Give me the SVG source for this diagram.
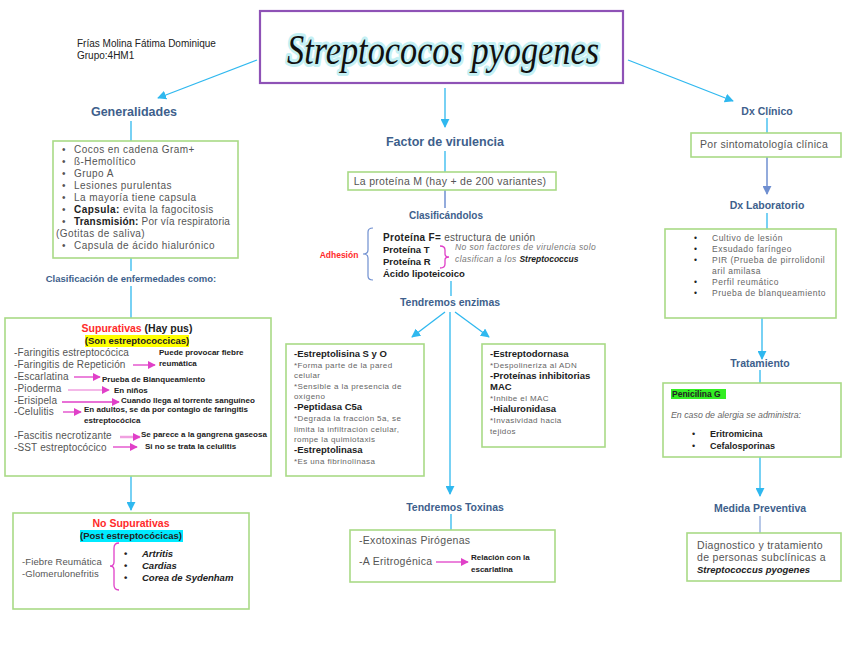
<svg xmlns="http://www.w3.org/2000/svg" width="848" height="655" viewBox="0 0 848 655">
<defs>
<marker id="ac" viewBox="0 0 10 10" refX="9" refY="5" markerWidth="9" markerHeight="9" markerUnits="userSpaceOnUse" orient="auto"><path d="M0,0 L10,5 L0,10 z" fill="#2fb8ef"/></marker>
<marker id="ab" viewBox="0 0 10 10" refX="9" refY="5" markerWidth="9" markerHeight="9" markerUnits="userSpaceOnUse" orient="auto"><path d="M0,0 L10,5 L0,10 z" fill="#6f8fd0"/></marker>
<marker id="am" viewBox="0 0 10 10" refX="9" refY="5" markerWidth="8" markerHeight="8" markerUnits="userSpaceOnUse" orient="auto"><path d="M0,0 L10,5 L0,10 z" fill="#e040c8"/></marker>
</defs>
<style>
text{font-family:"Liberation Sans","Noto Sans",Arial,sans-serif;}
.box{fill:#fff;stroke:#a9da86;stroke-width:1.6;}
.lbl{font-weight:bold;fill:#3e5f8c;text-anchor:middle;}
.body{font-size:10px;fill:#555;letter-spacing:0.3px;}
.sm{font-size:8px;fill:#666;letter-spacing:0.4px;}
.bsm{font-size:9.5px;font-weight:bold;fill:#222;}
.note{font-size:8px;font-weight:bold;fill:#222;}
.c{stroke:#2fb8ef;stroke-width:1.3;fill:none;}
.cb{stroke:#6f8fd0;stroke-width:1.5;fill:none;}
.m{stroke:#e040c8;stroke-width:1.3;fill:none;}
.blt{font-size:9px;fill:#222;}
</style>
<rect width="848" height="655" fill="#fff"/>

<g id="connectors">
<line class="c" x1="257" y1="60" x2="158" y2="98" marker-end="url(#ac)"/>
<line class="c" x1="445" y1="88" x2="445" y2="127" marker-end="url(#ac)"/>
<line class="c" x1="628" y1="60" x2="733" y2="101" marker-end="url(#ac)"/>
<line class="c" x1="131" y1="121" x2="131" y2="141"/>
<line class="c" x1="131" y1="258" x2="131" y2="271"/>
<line class="c" x1="131" y1="286" x2="131" y2="318"/>
<line class="c" x1="131" y1="476" x2="131" y2="510" marker-end="url(#ac)"/>
<line class="c" x1="445" y1="151" x2="445" y2="172"/>
<line class="cb" x1="445" y1="190" x2="445" y2="208"/>
<line class="c" x1="451" y1="281" x2="451" y2="296"/>
<line class="c" x1="445" y1="312" x2="412" y2="337" marker-end="url(#ac)"/>
<line class="c" x1="455" y1="312" x2="489" y2="337" marker-end="url(#ac)"/>
<line class="c" x1="450" y1="312" x2="450" y2="494" marker-end="url(#ac)"/>
<line class="c" x1="451" y1="514" x2="451" y2="530"/>
<line class="c" x1="767" y1="118" x2="767" y2="133"/>
<line class="cb" x1="767" y1="157" x2="767" y2="194" marker-end="url(#ab)"/>
<line class="c" x1="767" y1="213" x2="767" y2="229"/>
<line class="c" x1="762" y1="318" x2="762" y2="359" marker-end="url(#ac)"/>
<line class="c" x1="760" y1="370" x2="760" y2="383"/>
<line class="c" x1="760" y1="457" x2="760" y2="496" marker-end="url(#ac)"/>
<line class="cb" x1="760" y1="516" x2="760" y2="533" style="stroke-width:1"/>
</g>

<g id="author">
<text x="77" y="47" style="font-size:10px;fill:#222;">Frías Molina Fátima Dominique</text>
<text x="77" y="59" style="font-size:10px;fill:#222;">Grupo:4HM1</text>
</g>

<g id="title">
<rect x="260" y="11" width="363" height="72" fill="#fff" stroke="#8e52b6" stroke-width="2.2"/>
<text x="443" y="64" text-anchor="middle" textLength="312" lengthAdjust="spacingAndGlyphs" style="font-family:'Liberation Serif','DejaVu Serif',serif;font-style:italic;font-size:42px;fill:#111;stroke:#c4f0f4;stroke-width:6;stroke-linejoin:round;paint-order:stroke;">Streptococos pyogenes</text>
</g>

<g id="generalidades">
<text class="lbl" x="134" y="116" style="font-size:12.5px;">Generalidades</text>
<rect class="box" x="53" y="141" width="185" height="117"/>
<g class="body" style="font-size:10px;letter-spacing:0.45px;">
<text x="62" y="153">•</text><text x="74" y="153">Cocos en cadena Gram+</text>
<text x="62" y="165">•</text><text x="74" y="165">ß-Hemolítico</text>
<text x="62" y="177">•</text><text x="74" y="177">Grupo A</text>
<text x="62" y="189">•</text><text x="74" y="189">Lesiones purulentas</text>
<text x="62" y="201">•</text><text x="74" y="201">La mayoría tiene capsula</text>
<text x="62" y="213">•</text><text x="74" y="213"><tspan font-weight="bold" fill="#222">Capsula:</tspan> evita la fagocitosis</text>
<text x="62" y="225">•</text><text x="74" y="225" style="letter-spacing:0.2px;"><tspan font-weight="bold" fill="#222">Transmisión:</tspan> Por vía respiratoria</text>
<text x="56" y="237">(Gotitas de saliva)</text>
<text x="62" y="249">•</text><text x="74" y="249">Capsula de ácido hialurónico</text>
</g>
<text class="lbl" x="131" y="282" style="font-size:9.5px;">Clasificación de enfermedades como:</text>
</g>

<g id="supurativas">
<rect class="box" x="5" y="318" width="266" height="158"/>
<text x="137" y="332" text-anchor="middle" style="font-size:10.5px;font-weight:bold;fill:#222;"><tspan fill="#ff2a2a">Supurativas</tspan> (Hay pus)</text>
<rect x="85" y="335" width="104" height="12" fill="#ffff00"/>
<text x="137" y="344" text-anchor="middle" style="font-size:9.5px;font-weight:bold;fill:#222;">(Son estreptococcicas)</text>
<g class="body" style="font-size:10px;letter-spacing:0.15px;">
<text x="14" y="356">-Faringitis estreptocócica</text>
<text x="14" y="368">-Faringitis de Repetición</text>
<text x="14" y="380">-Escarlatina</text>
<text x="14" y="392">-Pioderma</text>
<text x="14" y="404">-Erisipela</text>
<text x="14" y="415">-Celulitis</text>
<text x="14" y="439">-Fascitis necrotizante</text>
<text x="14" y="451">-SST estreptocócico</text>
</g>
<line class="m" x1="133" y1="365" x2="155" y2="365" marker-end="url(#am)"/>
<line class="m" x1="74" y1="377" x2="100" y2="377" marker-end="url(#am)"/>
<line class="m" x1="68" y1="390" x2="109" y2="390" marker-end="url(#am)" style="stroke:#f0a0e0;"/>
<line class="m" x1="62" y1="402" x2="119" y2="402" marker-end="url(#am)"/>
<line class="m" x1="63" y1="412" x2="81" y2="412" marker-end="url(#am)"/>
<line class="m" x1="120" y1="437" x2="140" y2="437" marker-end="url(#am)" style="stroke:#f0a0e0;stroke-width:2.5;"/>
<line class="m" x1="113" y1="447" x2="137" y2="447" marker-end="url(#am)"/>
<g class="note">
<text x="159" y="355">Puede provocar fiebre</text>
<text x="159" y="366">reumática</text>
<text x="102" y="382">Prueba de Blanqueamiento</text>
<text x="114" y="393">En niños</text>
<text x="121" y="403">Cuando llega al torrente sanguíneo</text>
<text x="84" y="412">En adultos, se da por contagio de faringitis</text>
<text x="84" y="423">estreptocócica</text>
<text x="141" y="437">Se parece a la gangrena gaseosa</text>
<text x="145" y="449">Si no se trata la celulitis</text>
</g>
</g>

<g id="no-supurativas">
<rect class="box" x="13" y="513" width="236" height="96"/>
<text x="131" y="527" text-anchor="middle" style="font-size:10.5px;font-weight:bold;fill:#ff2a2a;">No Supurativas</text>
<rect x="80" y="530" width="103" height="12" fill="#00eaff"/>
<text x="131" y="539" text-anchor="middle" style="font-size:9.5px;font-weight:bold;fill:#222;">(Post estreptocócicas)</text>
<text class="body" x="22" y="565" style="font-size:9.5px;letter-spacing:0.1px;">-Fiebre Reumática</text>
<text class="body" x="22" y="577" style="font-size:9.5px;letter-spacing:0.1px;">-Glomerulonefritis</text>
<path d="M119,543 Q114,543 114,548 L114,562 Q114,566 110,566 Q114,566 114,570 L114,585 Q114,590 119,590" class="m"/>
<g style="font-size:9.5px;font-weight:bold;font-style:italic;fill:#222;">
<text x="124" y="557" style="font-style:normal;">•</text><text x="142" y="557">Artritis</text>
<text x="124" y="569" style="font-style:normal;">•</text><text x="142" y="569">Cardias</text>
<text x="124" y="581" style="font-style:normal;">•</text><text x="142" y="581">Corea de Sydenham</text>
</g>
</g>

<g id="factor-virulencia">
<text class="lbl" x="445" y="146" style="font-size:12.5px;">Factor de virulencia</text>
<rect class="box" x="348" y="172" width="208" height="18"/>
<text class="body" x="450" y="185" text-anchor="middle" style="font-size:10.5px;">La proteína M (hay + de 200 variantes)</text>
<text class="lbl" x="446" y="219" style="font-size:10px;">Clasificándolos</text>
</g>

<g id="clasificacion">
<path d="M373,228 Q368,228 368,232 L368,250 Q368,254 363,254 Q368,254 368,258 L368,276 Q368,280 373,280" fill="none" stroke="#6f8fd0" stroke-width="1.2"/>
<text x="339" y="258" text-anchor="middle" style="font-size:8.5px;fill:#ff2a2a;font-weight:bold;">Adhesión</text>
<text x="383" y="241" style="font-size:10px;fill:#555;letter-spacing:0.3px;"><tspan font-weight="bold" fill="#222">Proteína F=</tspan> estructura de unión</text>
<text x="383" y="253" style="font-size:9.5px;font-weight:bold;fill:#222;">Proteína T</text>
<text x="383" y="265" style="font-size:9.5px;font-weight:bold;fill:#222;">Proteína R</text>
<text x="383" y="277" style="font-size:9.5px;font-weight:bold;fill:#222;">Ácido lipoteicoico</text>
<path d="M440,246 Q445,246 445,250 L445,254 Q445,257 449,257 Q445,257 445,260 L445,264 Q445,268 440,268" class="m"/>
<text x="455" y="250" style="font-size:8.5px;font-style:italic;fill:#777;letter-spacing:0.4px;">No son factores de virulencia solo</text>
<text x="455" y="262" style="font-size:8.5px;font-style:italic;fill:#777;letter-spacing:0.4px;">clasifican a los <tspan font-weight="bold" fill="#222" style="letter-spacing:0;">Streptococcus</tspan></text>
<text class="lbl" x="450" y="306" style="font-size:10.5px;">Tendremos enzimas</text>
</g>

<g id="enzimas-1">
<rect class="box" x="286" y="344" width="138" height="132"/>
<text class="bsm" x="294" y="357">-Estreptolisina S y O</text>
<text class="sm" x="294" y="368">*Forma parte de la pared</text>
<text class="sm" x="294" y="378">celular</text>
<text class="sm" x="294" y="389">*Sensible a la presencia de</text>
<text class="sm" x="294" y="399">oxígeno</text>
<text class="bsm" x="294" y="410">-Peptidasa C5a</text>
<text class="sm" x="294" y="421">*Degrada la fracción 5a, se</text>
<text class="sm" x="294" y="432">limita la infiltración celular,</text>
<text class="sm" x="294" y="442">rompe la quimiotaxis</text>
<text class="bsm" x="294" y="453">-Estreptolinasa</text>
<text class="sm" x="294" y="464">*Es una fibrinolinasa</text>
</g>

<g id="enzimas-2">
<rect class="box" x="482" y="344" width="123" height="103"/>
<text class="bsm" x="490" y="357">-Estreptodornasa</text>
<text class="sm" x="490" y="368">*Despolineriza al ADN</text>
<text class="bsm" x="490" y="379">-Proteínas inhibitorias</text>
<text class="bsm" x="490" y="390">MAC</text>
<text class="sm" x="490" y="401">*Inhibe el MAC</text>
<text class="bsm" x="490" y="412">-Hialuronidasa</text>
<text class="sm" x="490" y="423">*Invasividad hacia</text>
<text class="sm" x="490" y="434">tejidos</text>
</g>

<g id="toxinas">
<text class="lbl" x="455" y="511" style="font-size:10.5px;">Tendremos Toxinas</text>
<rect class="box" x="350" y="530" width="205" height="52"/>
<text class="body" x="359" y="544" style="font-size:10.5px;">-Exotoxinas Pirógenas</text>
<text class="body" x="359" y="565" style="font-size:10.5px;">-A Eritrogénica</text>
<line class="m" x1="436" y1="562" x2="468" y2="562" marker-end="url(#am)"/>
<text class="note" x="471" y="560">Relación con la</text>
<text class="note" x="471" y="572">escarlatina</text>
</g>

<g id="dx-clinico">
<text class="lbl" x="767" y="115" style="font-size:10.5px;">Dx Clínico</text>
<rect class="box" x="691" y="133" width="150" height="24"/>
<text class="body" x="700" y="148" style="font-size:10.5px;">Por sintomatología clínica</text>
</g>

<g id="dx-laboratorio">
<text class="lbl" x="767" y="209" style="font-size:10.5px;">Dx Laboratorio</text>
<rect class="box" x="665" y="229" width="171" height="89"/>
<g class="sm" style="font-size:8.5px;letter-spacing:0.5px;">
<text x="694" y="241" fill="#222">•</text><text x="712" y="241">Cultivo de lesión</text>
<text x="694" y="252" fill="#222">•</text><text x="712" y="252">Exsudado faríngeo</text>
<text x="694" y="263" fill="#222">•</text><text x="712" y="263">PIR (Prueba de pirrolidonil</text>
<text x="712" y="274">aril amilasa</text>
<text x="694" y="285" fill="#222">•</text><text x="712" y="285">Perfil reumático</text>
<text x="694" y="296" fill="#222">•</text><text x="712" y="296">Prueba de blanqueamiento</text>
</g>
</g>

<g id="tratamiento">
<text class="lbl" x="760" y="367" style="font-size:10.5px;">Tratamiento</text>
<rect class="box" x="663" y="383" width="178" height="74"/>
<rect x="671" y="389" width="55" height="10" fill="#33ee22"/>
<text x="672" y="397" style="font-size:8.5px;font-weight:bold;fill:#222;">Penicilina G</text>
<text x="671" y="418" style="font-size:8.8px;font-style:italic;fill:#666;">En caso de alergia se administra:</text>
<text x="692" y="437" class="blt">•</text><text x="710" y="437" class="bsm" style="font-size:9px;">Eritromicina</text>
<text x="692" y="449" class="blt">•</text><text x="710" y="449" class="bsm" style="font-size:9px;">Cefalosporinas</text>
</g>

<g id="medida-preventiva">
<text class="lbl" x="760" y="512" style="font-size:10.5px;">Medida Preventiva</text>
<rect class="box" x="687" y="533" width="154" height="48"/>
<text class="body" x="697" y="549" style="font-size:10.5px;">Diagnostico y tratamiento</text>
<text class="body" x="697" y="561" style="font-size:10.5px;">de personas subclínicas a</text>
<text x="697" y="573" style="font-size:9.5px;font-weight:bold;font-style:italic;fill:#222;">Streptococcus pyogenes</text>
</g>
</svg>
